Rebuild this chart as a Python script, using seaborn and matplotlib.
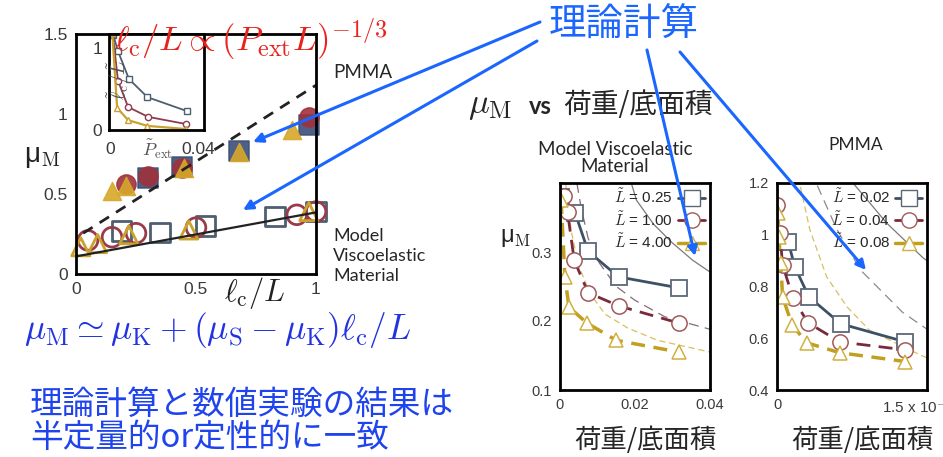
import matplotlib
matplotlib.use('Agg')
import matplotlib.pyplot as plt
import seaborn as sns
from matplotlib.lines import Line2D

# ---- main panel: mu_M vs lc/L ----
visco_sq_x = [0.19, 0.35, 0.54, 0.83, 1.0]
visco_sq_y = [0.27, 0.26, 0.30, 0.36, 0.39]
visco_ci_x = [0.05, 0.15, 0.25, 0.50, 0.92, 1.0]
visco_ci_y = [0.21, 0.23, 0.255, 0.29, 0.37, 0.39]
visco_tr_x = [0.02, 0.09, 0.22, 0.47, 0.97]
visco_tr_y = [0.17, 0.19, 0.245, 0.275, 0.39]

pmma_sq_x = [0.30, 0.44, 0.68, 0.97]
pmma_sq_y = [0.60, 0.67, 0.77, 0.93]
pmma_ci_x = [0.21, 0.30, 0.44, 0.97]
pmma_ci_y = [0.56, 0.61, 0.66, 0.98]
pmma_tr_x = [0.15, 0.21, 0.45, 0.68, 0.90]
pmma_tr_y = [0.52, 0.55, 0.66, 0.76, 0.90]

visco_fit_x = [0.0, 1.0]
visco_fit_y = [0.11, 0.385]
pmma_fit_x = [0.03, 1.0]
pmma_fit_y = [0.255, 1.18]

# ---- inset: lc/L vs P_ext ----
ins_sq_x = [0.0014, 0.0036, 0.0086, 0.017, 0.035]
ins_sq_y = [1.16, 0.96, 0.62, 0.40, 0.23]
ins_ci_x = [0.0012, 0.0036, 0.0082, 0.0173, 0.0345]
ins_ci_y = [1.17, 0.60, 0.28, 0.16, 0.073]
ins_tr_x = [0.001, 0.0032, 0.0082, 0.017, 0.0345]
ins_tr_y = [1.18, 0.27, 0.12, 0.05, 0.012]

# ---- model viscoelastic: mu_M vs load/area ----
mid_labels = ['0.25', '1.00', '4.00']
mid_sq_x = [0.0003, 0.004, 0.0075, 0.0156, 0.0317]
mid_sq_y = [0.38, 0.357, 0.301, 0.264, 0.248]
mid_ci_x = [0.001, 0.002, 0.0038, 0.0075, 0.0156, 0.0317]
mid_ci_y = [0.381, 0.358, 0.288, 0.241, 0.222, 0.197]
mid_tr_x = [0.0003, 0.0013, 0.0024, 0.0072, 0.015, 0.0317]
mid_tr_y = [0.375, 0.264, 0.220, 0.197, 0.172, 0.155]
mid_th1_x = [0.019, 0.0204, 0.025, 0.030, 0.0354, 0.040]
mid_th1_y = [0.40, 0.375, 0.34, 0.313, 0.288, 0.271]
mid_th2_x = [0.0045, 0.0056, 0.0075, 0.0105, 0.015, 0.02, 0.028, 0.038, 0.040]
mid_th2_y = [0.40, 0.365, 0.32, 0.284, 0.25, 0.23, 0.206, 0.191, 0.188]
mid_th3_x = [0.0015, 0.003, 0.005, 0.008, 0.012, 0.018, 0.026, 0.040]
mid_th3_y = [0.40, 0.33, 0.28, 0.24, 0.21, 0.19, 0.172, 0.155]

# ---- PMMA: mu_M vs load/area ----
pm_labels = ['0.02', '0.04', '0.08']
pm_sq_x = [1.2e-5, 1.9e-5, 3.4e-5, 6.8e-5, 1.37e-4]
pm_sq_y = [0.972, 0.876, 0.76, 0.656, 0.586]
pm_ci_x = [0.5e-6, 3e-6, 6e-6, 1.7e-5, 3.3e-5, 6.7e-5, 1.37e-4]
pm_ci_y = [1.115, 1.007, 0.883, 0.756, 0.66, 0.586, 0.555]
pm_tr_x = [1e-6, 2e-6, 4e-6, 6e-6, 1.6e-5, 3.2e-5, 6.7e-5, 1.37e-4]
pm_tr_y = [1.084, 0.99, 0.89, 0.76, 0.652, 0.582, 0.544, 0.51]
pm_th1_x = [8.1e-5, 9.9e-5, 1.17e-4, 1.56e-4, 1.6e-4]
pm_th1_y = [1.2, 1.123, 1.045, 0.91, 0.90]
pm_th2_x = [4.3e-5, 6.4e-5, 8.9e-5, 1.34e-4, 1.6e-4]
pm_th2_y = [1.19, 1.02, 0.864, 0.70, 0.635]
pm_th3_x = [2.5e-5, 3.5e-5, 5.3e-5, 7.5e-5, 9.9e-5, 1.56e-4, 1.6e-4]
pm_th3_y = [1.185, 1.02, 0.837, 0.72, 0.63, 0.53, 0.525]

SQ_C = '#4d5f70'
CI_C = '#9a3b4a'
TR_C = '#caa22c'
SQ_F = '#3b4f78'
CI_F = '#a0323c'
TR_F = '#d6a82a'
BLUE = '#1a66ff'

sns.set_style('white')
plt.rcParams['font.family'] = ['Liberation Sans', 'Noto Sans CJK JP', 'DejaVu Sans']
plt.rcParams['mathtext.fontset'] = 'cm'

fig = plt.figure(figsize=(9.43, 4.57), dpi=100)


def frame(ax, size=11):
    for s in ax.spines.values():
        s.set_color('black')
        s.set_linewidth(2)
    ax.tick_params(length=0, labelsize=size, colors='#3a3a3a', pad=6)


def line(ax, x, y, **kw):
    sns.lineplot(x=x, y=y, ax=ax, estimator=None, sort=False, legend=False, **kw)


# main panel
ax = fig.add_axes([76 / 943, 1 - 274 / 457, 240 / 943, 240 / 457])
line(ax, pmma_fit_x, pmma_fit_y, color='#222222', lw=2, linestyle=(0, (4, 3)))
line(ax, visco_fit_x, visco_fit_y, color='#222222', lw=1.6)
sns.scatterplot(x=pmma_sq_x, y=pmma_sq_y, ax=ax, marker='s', s=190, color=SQ_F, edgecolor=SQ_F, alpha=0.9)
sns.scatterplot(x=pmma_ci_x, y=pmma_ci_y, ax=ax, marker='o', s=190, color=CI_F, edgecolor=CI_F, alpha=0.9)
sns.scatterplot(x=pmma_tr_x, y=pmma_tr_y, ax=ax, marker='^', s=170, color=TR_F, edgecolor=TR_F, alpha=0.9)
sns.scatterplot(x=visco_sq_x, y=visco_sq_y, ax=ax, marker='s', s=200, facecolor='none', edgecolor=SQ_C, linewidth=2)
sns.scatterplot(x=visco_ci_x, y=visco_ci_y, ax=ax, marker='o', s=200, facecolor='none', edgecolor=CI_C, linewidth=2)
sns.scatterplot(x=visco_tr_x, y=visco_tr_y, ax=ax, marker='^', s=170, facecolor='none', edgecolor=TR_C, linewidth=2)
ax.set_xlim(0, 1)
ax.set_ylim(0, 1.5)
ax.set_xticks([0, 0.5, 1])
ax.set_xticklabels(['0', '0.5', '1'])
ax.set_yticks([0, 0.5, 1, 1.5])
ax.set_yticklabels(['0', '0.5', '1', '1.5'])
for sp in ax.collections:
    sp.set_clip_on(False)
frame(ax, 12.5)

# inset
ins = fig.add_axes([109 / 943, 1 - 130 / 457, 95 / 943, 96 / 457])
line(ins, ins_sq_x, ins_sq_y, color='#4d5f70', lw=1.3, marker='s', ms=4.5, mfc='white', mec='#4d5f70', mew=1)
line(ins, ins_ci_x, ins_ci_y, color='#8f3b4e', lw=1.3, marker='o', ms=4.5, mfc='white', mec='#8f3b4e', mew=1)
line(ins, ins_tr_x, ins_tr_y, color='#c8a330', lw=1.6, marker='^', ms=4, mfc='white', mec='#c8a330', mew=1)
ins.set_xlim(-0.0005, 0.0427)
ins.set_ylim(0, 1.17)
ins.set_xticks([0, 0.04])
ins.set_xticklabels(['0', '0.04'])
ins.set_yticks([0, 1])
ins.set_yticklabels(['0', '1'])
frame(ins, 12.5)
ins.tick_params(axis='x', pad=9)
ins.tick_params(axis='y', pad=5)
ins.set_facecolor('white')

# model viscoelastic panel
mid = fig.add_axes([560 / 943, 1 - 390 / 457, 150 / 943, 207 / 457])
line(mid, mid_th1_x, mid_th1_y, color='#7a7a7a', lw=0.9)
line(mid, mid_th2_x, mid_th2_y, color='#8a6a78', lw=0.9, linestyle=(0, (8, 5)))
line(mid, mid_th3_x, mid_th3_y, color='#d8c060', lw=0.9, linestyle=(0, (5, 3)))
line(mid, mid_sq_x, mid_sq_y, color='#3d5166', lw=2, marker='s', ms=11, mfc='white', mec='#5a6878', mew=1.3)
line(mid, mid_ci_x, mid_ci_y, color='#7a2a3a', lw=2, linestyle=(0, (5, 3)), marker='o', ms=11, mfc='white', mec='#a05a5a', mew=1.1)
line(mid, mid_tr_x, mid_tr_y, color='#c0a020', lw=2.5, linestyle=(0, (4, 2.5)), marker='^', ms=10, mfc='white', mec='#d0b040', mew=1.1)
mid.set_xlim(0, 0.04)
mid.set_ylim(0.1, 0.4)
mid.set_xticks([0, 0.02, 0.04])
mid.set_xticklabels(['0', '0.02', '0.04'])
mid.set_yticks([0.1, 0.2, 0.3])
mid.set_yticklabels(['0.1', '0.2', '0.3'])
frame(mid, 10.5)
handles = [
    Line2D([], [], color='#3d5166', lw=2, marker='s', ms=11, mfc='white', mec='#5a6878'),
    Line2D([], [], color='#7a2a3a', lw=2, marker='o', ms=11, mfc='white', mec='#a05a5a'),
    Line2D([], [], color='#c0a020', lw=2.5, marker='^', ms=10, mfc='white', mec='#d0b040'),
]
mid.legend(handles, [r'$\tilde{L}$ = ' + v for v in mid_labels], loc='upper right', frameon=False,
           markerfirst=False, fontsize=11, handlelength=1.8, handletextpad=0.3,
           labelspacing=0.25, borderaxespad=0.1, borderpad=0.2)

# PMMA panel
pm = fig.add_axes([777 / 943, 1 - 390 / 457, 150 / 943, 207 / 457])
line(pm, pm_th1_x, pm_th1_y, color='#7a7a7a', lw=0.9)
line(pm, pm_th2_x, pm_th2_y, color='#8a8a8a', lw=0.9, linestyle=(0, (8, 5)))
line(pm, pm_th3_x, pm_th3_y, color='#d8c060', lw=0.9, linestyle=(0, (5, 3)))
line(pm, pm_sq_x, pm_sq_y, color='#3d5166', lw=2, marker='s', ms=11, mfc='white', mec='#5a6878', mew=1.3)
line(pm, pm_ci_x, pm_ci_y, color='#7a2a3a', lw=2, linestyle=(0, (5, 3)), marker='o', ms=11, mfc='white', mec='#a05a5a', mew=1.1)
line(pm, pm_tr_x, pm_tr_y, color='#c0a020', lw=2.5, linestyle=(0, (4, 2.5)), marker='^', ms=10, mfc='white', mec='#d0b040', mew=1.1)
pm.set_xlim(0, 1.6e-4)
pm.set_ylim(0.4, 1.2)
pm.set_xticks([0, 1.5e-4])
pm.set_xticklabels(['0', r'1.5 x 10$^{-4}$'])
pm.set_yticks([0.4, 0.6, 0.8, 1.0, 1.2])
pm.set_yticklabels(['0.4', '0.6', '0.8', '1', '1.2'])
frame(pm, 10.5)
pm.get_xticklabels()[1].set_fontsize(11)
pm.legend(handles, [r'$\tilde{L}$ = ' + v for v in pm_labels], loc='upper right', frameon=False,
          markerfirst=False, fontsize=11, handlelength=1.8, handletextpad=0.3,
          labelspacing=0.25, borderaxespad=0.1, borderpad=0.2)

# overlay for slide text and arrows (pixel coordinates)
ov = fig.add_axes([0, 0, 1, 1], zorder=10)
ov.set_xlim(0, 943)
ov.set_ylim(457, 0)
ov.axis('off')
ov.patch.set_alpha(0)

ov.text(42, 157, 'μ$_{\\rm M}$', fontsize=20, ha='center', va='center', color='#222222')
ov.text(255, 293, r'$\ell_{\rm c}/L$', fontsize=22, ha='center', va='center', color='#222222')
ov.text(157, 149, r'$\tilde{P}_{\rm ext}$', fontsize=13, ha='center', va='center', color='#555555')
ov.text(119, 80, r'$\tilde{\ell}_{\rm c}/\tilde{L}$', fontsize=14, ha='center', va='center',
        color='#555555', rotation=90)
ov.text(114, 40, r'$\ell_{\rm c}/L \propto (P_{\rm ext}L)^{-1/3}$', fontsize=25, ha='left',
        va='center', color='#e8231c')
ov.text(333, 72, 'PMMA', fontsize=13.5, ha='left', va='center', family='Lato')
ov.text(333, 256, 'Model\nViscoelastic\nMaterial', fontsize=13, ha='left', va='center',
        family='Lato', linespacing=1.3)
ov.text(24, 330, r'$\mu_{\rm M} \simeq \mu_{\rm K} + (\mu_{\rm S} - \mu_{\rm K})\ell_{\rm c}/L$',
        fontsize=25.5, ha='left', va='center', color='#2233e0')
ov.text(30, 405, '理論計算と数値実験の結果は', fontsize=23.5, ha='left', va='center',
        family='Noto Sans CJK JP', color='#1f44ee')
ov.text(30, 438, '半定量的or定性的に一致', fontsize=23.5, ha='left', va='center',
        family='Noto Sans CJK JP', color='#1f44ee')

ov.text(624, 25, '理論計算', fontsize=27, ha='center', va='center', family='Noto Sans CJK JP', color=BLUE)
ov.text(468, 105, r'$\mu_{\rm M}$', fontsize=25, ha='left', va='center')
ov.text(529, 107, 'vs', fontsize=17, ha='left', va='center', weight='bold', family='Lato')
ov.text(563, 105, '荷重/底面積', fontsize=20, ha='left', va='center', family='Noto Sans CJK JP')
ov.text(615, 158, 'Model Viscoelastic\nMaterial', fontsize=13.5, ha='center', va='center',
        family='Lato', linespacing=0.95)
ov.text(856, 145, 'PMMA', fontsize=12.5, ha='center', va='center', family='Lato')
ov.text(516, 238, 'μ$_{\\rm M}$', fontsize=17, ha='center', va='center', color='#222222')
ov.text(645, 440, '荷重/底面積', fontsize=19, ha='center', va='center', family='Noto Sans CJK JP')
ov.text(862, 440, '荷重/底面積', fontsize=19, ha='center', va='center', family='Noto Sans CJK JP')

arrows = [((540, 22), (253, 142)), ((537, 41), (243, 210)),
          ((647, 50), (695, 256)), ((680, 52), (866, 270))]
for start, end in arrows:
    ov.annotate('', xy=end, xytext=start,
                arrowprops=dict(arrowstyle='-|>', color=BLUE, lw=2.2, mutation_scale=14,
                                shrinkA=0, shrinkB=0))

fig.savefig('out.png', dpi=100)
